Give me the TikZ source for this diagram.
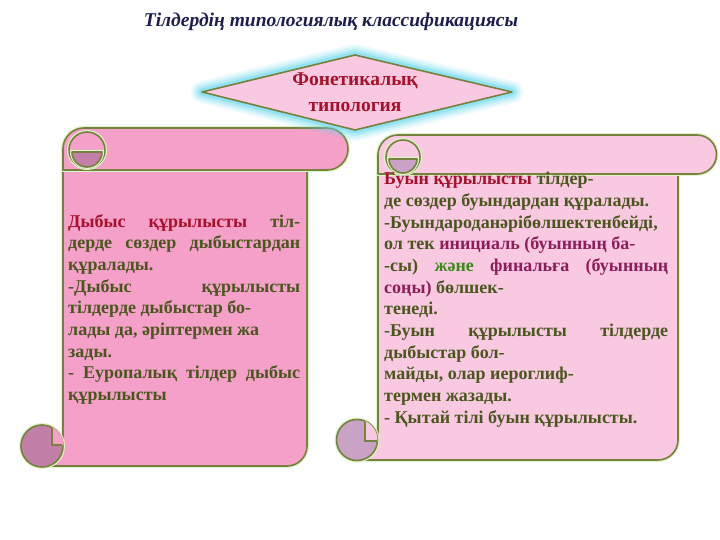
\documentclass[tikz,border=0pt]{standalone}
\usepackage{fontspec}
\setmainfont{Liberation Serif}
\usetikzlibrary{positioning}

\definecolor{rimline}{HTML}{77803F}
\definecolor{rimhalo}{HTML}{DDF3C8}
\definecolor{pinkdeep}{HTML}{F4A0C8}
\definecolor{pinksoft}{HTML}{F9C9E2}
\definecolor{mauvedeep}{HTML}{C27FA7}
\definecolor{mauvesoft}{HTML}{C9A2C6}
\definecolor{glowcyan}{HTML}{5ED6EE}
\definecolor{titleblue}{HTML}{1B1F4F}
\definecolor{headred}{HTML}{A8102C}
\definecolor{textolive}{HTML}{4A561E}
\definecolor{textpurple}{HTML}{8C1E5A}
\definecolor{textgreen}{HTML}{3C8A1A}

\newcommand{\spreadline}[2]{\makebox[#1][s]{#2}}

\begin{document}
\begin{tikzpicture}[x=1pt,y=-1pt,
    scroll/.style={draw=rimline, line width=1.6pt, line join=round, preaction={draw=rimhalo, line width=4pt}},
    notch/.style={draw=rimline, line width=1.3pt},
    heading/.style={font=\fontsize{19.5}{22}\selectfont\bfseries\itshape, text=titleblue},
    phonlabel/.style={font=\fontsize{19.5}{26}\selectfont\bfseries, text=headred, align=center},
    scrolltext/.style={font=\fontsize{18}{21.7}\selectfont\bfseries, text=textolive, align=left, inner sep=0pt, anchor=north west}]
    \useasboundingbox (0,0) rectangle (720,540);
    \fill[white] (0,0) rectangle (720,540);

    % title
    \node[heading] (title) at (331,22) {Тілдердің типологиялық классификациясы};

    % left scroll
    \path[scroll, fill=pinkdeep] (63,160) -- (307,160) -- (307,446) arc[start angle=0, end angle=90, radius=20]
        -- (42,466) -- (63,446) -- cycle;
    \path[scroll, fill=pinkdeep] (63,170) -- (63,149) arc[start angle=180, end angle=270, radius=21]
        -- (327,128) arc[start angle=270, end angle=450, radius=21] -- cycle;
    \path[scroll, fill=pinkdeep] (87,150) circle[radius=18];
    \path[scroll, fill=mauvedeep] (72,152) arc[start angle=180, end angle=0, radius=15] -- cycle;
    \path[scroll, fill=mauvedeep] (42,446) circle[radius=21];
    \fill[pinkdeep] (52,445) -- (52,427.2) arc[start angle=-63.5, end angle=0, radius=21] -- (63,445) -- cycle;
    \draw[notch] (52,428) -- (52,445) -- (62,445);

    % right scroll
    \path[scroll, fill=pinksoft] (378,165) -- (678,165) -- (678,440) arc[start angle=0, end angle=90, radius=20]
        -- (357,460) -- (378,440) -- cycle;
    \path[scroll, fill=pinksoft] (378,174) -- (378,155) arc[start angle=180, end angle=270, radius=20]
        -- (697,135) arc[start angle=270, end angle=450, radius=19.5] -- cycle;
    \path[scroll, fill=pinksoft] (403,157) circle[radius=17];
    \path[scroll, fill=mauvesoft] (389,159) arc[start angle=180, end angle=0, radius=14] -- cycle;
    \path[scroll, fill=mauvesoft] (357,440) circle[radius=20.5];
    \fill[pinksoft] (365,441) -- (365,421.1) arc[start angle=-67, end angle=0, radius=20.5] -- (377.5,441) -- cycle;
    \draw[notch] (365,422) -- (365,441) -- (377,441);

    % diamond with glow
    \coordinate (dw) at (202,92);
    \coordinate (dn) at (355,55);
    \coordinate (de) at (512,92);
    \coordinate (ds) at (355,130);
    \foreach \w/\o in {22/0.12, 17/0.18, 12/0.26, 7/0.38} {
        \draw[glowcyan, line width=\w pt, opacity=\o, line join=round] (dw) -- (dn) -- (de) -- (ds) -- cycle;
    }
    \draw[fill=pinksoft, draw=rimline, line width=1.6pt, line join=round] (dw) -- (dn) -- (de) -- (ds) -- cycle;
    \node[phonlabel] (phon) at (355,92) {Фонетикалық\\типология};

    % left text
    \node[scrolltext] (soundtext) at (68,214) {%
        \spreadline{232pt}{{\color{headred}Дыбыс құрылысты} тіл-}\\
        \spreadline{232pt}{дерде сөздер дыбыстардан}\\
        құралады.\\
        \spreadline{232pt}{-Дыбыс құрылысты}\\
        тілдерде дыбыстар бо-\\
        лады да, әріптермен жа\\
        зады.\\
        \spreadline{232pt}{- Еуропалық тілдер дыбыс}\\
        құрылысты};

    % right text
    \node[scrolltext] (syllabletext) at (384,172) {%
        {\color{headred}Буын құрылысты} тілдер-\\
        де сөздер буындардан құралады.\\
        -Буындароданәрібөлшектенбейді,\\
        ол тек {\color{textpurple}инициаль (буынның ба-}\\
        \spreadline{284pt}{-сы) {\color{textgreen}және} {\color{textpurple}финальға} {\color{textpurple}(буынның}}\\
        {\color{textpurple}соңы)} бөлшек-\\
        тенеді.\\
        \spreadline{284pt}{-Буын құрылысты тілдерде}\\
        дыбыстар бол-\\
        майды, олар иероглиф-\\
        термен жазады.\\
        - Қытай тілі буын құрылысты.};
\end{tikzpicture}
\end{document}
